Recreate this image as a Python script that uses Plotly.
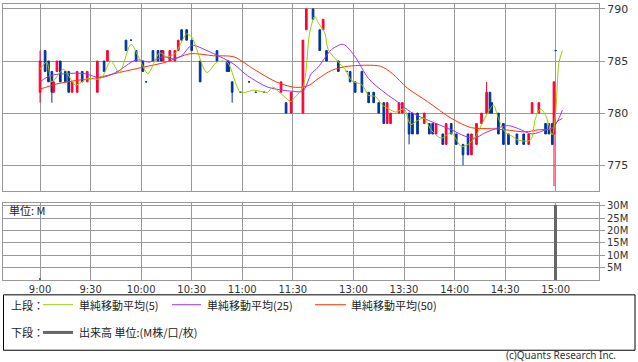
import plotly.graph_objects as go

# ---------------- data ----------------
candle_time = ["9:00", "9:03", "9:05", "9:07", "9:08", "9:10", "9:12", "9:15", "9:17", "9:19",
               "9:22", "9:25", "9:28", "9:34", "9:38", "9:40", "9:46", "9:51", "9:54", "9:57",
               "10:01", "10:03", "10:07", "10:10", "10:12", "10:13", "10:17", "10:20", "10:22", "10:24",
               "10:27", "10:30", "10:35", "10:45", "10:51", "10:52", "10:54", "10:59", "11:04", "11:08",
               "11:13", "11:23", "11:26", "11:29",
               "12:30", "12:32", "12:36", "12:40", "12:42", "12:44", "12:51", "12:56", "12:58", "13:01",
               "13:05", "13:09", "13:12", "13:15", "13:18", "13:20", "13:22", "13:27", "13:29", "13:33",
               "13:35", "13:38", "13:42", "13:45", "13:47", "13:49", "13:53", "13:55", "13:58", "14:01",
               "14:05", "14:08", "14:10", "14:13", "14:16", "14:19", "14:21", "14:22", "14:26", "14:29",
               "14:32", "14:37", "14:41", "14:44", "14:46", "14:50", "14:54", "14:56", "14:58", "14:59",
               "15:00"]
candle_open = [782, 786, 785, 784, 782, 784, 785, 784, 784, 782,
               782, 784, 783, 782, 785, 785, 784, 787, 787, 786,
               785, 783, 786, 786, 786, 785, 785, 785, 786, 788,
               788, 787, 785, 786, 785, 785, 783, 782, 783, 782,
               782, 782, 781, 780,
               780, 788, 790, 788, 788, 786, 785, 784, 784, 783,
               784, 782, 782, 781, 781, 779, 779, 780, 780, 780,
               780, 780, 779, 779, 779, 778, 778, 777, 779, 778,
               777, 778, 776, 777, 779, 780, 782, 781, 780, 779,
               778, 778, 778, 777, 780, 780, 779, 779, 779, 778,
               786]
candle_high = [786, 786, 785, 784, 783, 785, 785, 784, 784, 783,
               784, 784, 784, 785, 785, 786, 784, 787, 787, 786,
               785, 783, 786, 786, 786, 786, 786, 786, 787, 788,
               788, 787, 785, 786, 785, 785, 783, 782, 783, 782,
               782, 783, 781, 782,
               787, 790, 790, 788, 789, 786, 785, 784, 784, 783,
               784, 782, 782, 781, 781, 781, 780, 781, 781, 780,
               780, 780, 780, 779, 779, 779, 778, 779, 779, 778,
               777, 778, 778, 779, 780, 783, 782, 781, 780, 779,
               778, 778, 778, 778, 781, 781, 779, 779, 779, 783,
               786]
candle_low = [781, 784, 783, 781, 782, 784, 783, 783, 782, 782,
              782, 783, 783, 782, 784, 785, 784, 786, 787, 785,
              784, 783, 785, 785, 785, 785, 785, 785, 786, 787,
              787, 786, 783, 785, 784, 784, 781, 782, 783, 782,
              782, 782, 780, 780,
              780, 788, 789, 786, 788, 785, 784, 784, 783, 782,
              782, 781, 781, 780, 779, 779, 779, 780, 780, 777,
              778, 778, 779, 778, 778, 778, 777, 777, 778, 777,
              775, 776, 776, 777, 779, 780, 780, 780, 778, 777,
              777, 777, 777, 777, 780, 780, 778, 778, 777, 773,
              786]
candle_close = [785, 784, 783, 782, 783, 785, 783, 783, 782, 783,
                784, 783, 784, 785, 784, 786, 784, 786, 787, 785,
                784, 783, 785, 785, 785, 786, 786, 786, 787, 787,
                787, 786, 783, 785, 784, 784, 782, 782, 783, 782,
                782, 783, 780, 782,
                787, 790, 789, 786, 789, 785, 784, 784, 783, 782,
                782, 781, 781, 780, 779, 781, 780, 781, 781, 778,
                778, 778, 780, 778, 778, 779, 777, 779, 778, 777,
                776, 776, 778, 779, 780, 782, 780, 780, 778, 777,
                777, 777, 777, 778, 781, 781, 778, 778, 777, 783,
                786]

ma5_time = ["9:00", "9:04", "9:07", "9:14", "9:21", "9:28", "9:36", "9:42", "9:47", "9:54",
            "9:59", "10:04", "10:11", "10:15", "10:20", "10:27", "10:30", "10:39", "10:45", "10:51",
            "10:59", "11:07", "11:15", "11:18", "11:22", "11:29", "11:30", "12:30", "12:34", "12:37",
            "12:39", "12:43", "12:45", "12:51", "12:55", "12:59", "13:05", "13:09", "13:13", "13:17",
            "13:21", "13:25", "13:30", "13:34", "13:38", "13:42", "13:46", "13:52", "13:58", "14:04",
            "14:08", "14:12", "14:16", "14:20", "14:23", "14:26", "14:30", "14:34", "14:38", "14:45",
            "14:48", "14:51", "14:54", "14:58", "15:00", "15:02", "15:04"]
ma5_value = [784.2, 784.9, 783.0, 784.2, 782.7, 783.3, 783.3, 785.0, 783.9, 786.6,
             785.2, 783.8, 785.8, 785.4, 785.7, 787.6, 787.3, 783.9, 784.9, 784.9,
             782.0, 782.2, 782.0, 782.5, 782.0, 781.1, 781.3, 782.5, 787.7, 789.3,
             788.7, 787.7, 786.1, 784.9, 784.2, 783.1, 782.7, 781.7, 781.6, 780.8,
             780.4, 780.1, 780.4, 778.9, 779.3, 779.5, 778.4, 777.6, 778.1, 776.8,
             777.0, 777.6, 778.9, 780.1, 780.8, 779.5, 778.2, 777.8, 777.4, 777.4,
             779.5, 780.4, 779.8, 777.9, 780.1, 784.9, 786.0]

ma25_time = ["9:00", "9:06", "9:16", "9:26", "9:36", "9:45", "9:57", "10:05", "10:13", "10:19",
             "10:24", "10:30", "10:39", "10:47", "10:55", "11:03", "11:15", "11:24", "11:30", "12:30",
             "12:35", "12:39", "12:47", "12:54", "13:01", "13:09", "13:19", "13:26", "13:34", "13:46",
             "13:58", "14:06", "14:12", "14:18", "14:26", "14:32", "14:38", "14:46", "14:54", "14:58",
             "15:01", "15:04"]
ma25_value = [783.0, 783.6, 783.8, 783.8, 783.4, 783.9, 785.1, 784.9, 785.4, 785.2,
              785.5, 786.5, 786.0, 785.4, 784.7, 783.6, 782.5, 782.2, 782.1, 782.1,
              783.8, 784.4, 786.1, 786.6, 785.4, 783.3, 781.9, 781.1, 780.1, 779.2,
              778.4, 777.8, 777.6, 778.1, 778.6, 778.8, 778.5, 778.0, 778.4, 778.6,
              779.2, 780.3]

ma50_time = ["9:00", "9:10", "9:20", "9:34", "9:47", "10:01", "10:15", "10:29", "10:43", "10:55",
             "11:07", "11:20", "11:30", "12:30", "12:34", "12:39", "12:47", "12:57", "13:16", "13:23",
             "13:32", "13:44", "13:58", "14:10", "14:22", "14:30", "14:42", "14:50", "14:58", "15:01",
             "15:04"]
ma50_value = [782.3, 782.8, 783.1, 783.4, 783.9, 784.4, 784.9, 785.7, 785.5, 785.4,
              784.2, 783.0, 782.5, 782.5, 782.7, 783.3, 784.1, 784.5, 784.5, 783.8,
              782.4, 781.1, 779.5, 778.6, 778.5, 778.4, 778.2, 778.4, 778.5, 779.2,
              779.5]

volume_time = ["9:00", "15:00"]
volume_value = [0.8, 30.5]  # millions

x_tick_labels = ["9:00", "9:30", "10:00", "10:30", "11:00", "11:30",
                 "13:00", "13:30", "14:00", "14:30", "15:00"]
price_ticks = [775, 780, 785, 790]
volume_ticks = [5, 10, 15, 20, 25, 30]
volume_tick_labels = ["5M", "10M", "15M", "20M", "25M", "30M"]

legend_labels = ["単純移動平均(5)", "単純移動平均(25)", "単純移動平均(50)"]
volume_label = "出来高 単位:(M株/口/枚)"


# ---------------- helpers ----------------
def session_index(t):
    h, m = map(int, t.split(":"))
    mins = h * 60 + m
    if mins <= 11 * 60 + 30:
        return mins - 9 * 60
    return mins - (12 * 60 + 30) + 156


W, H = 638, 362
ML, MR, MT, MB = 3, 39, 1, 82
PW = W - ML - MR
PH = H - MT - MB


def px(x):
    return (x - ML) / PW


def py(y):
    return (H - MB - y) / PH


UP = "#ff0033"
DOWN = "#003399"
GRID = "#999999"
C5, C25, C50 = "#99cc00", "#9933ff", "#ff3300"
VOLC = "#666666"

fig = go.Figure()

up_idx = [i for i in range(len(candle_time)) if candle_close[i] > candle_open[i]]
dn_idx = [i for i in range(len(candle_time)) if candle_close[i] <= candle_open[i]]

for idxs, col in ((dn_idx, DOWN), (up_idx, UP)):
    fig.add_trace(go.Candlestick(
        x=[session_index(candle_time[i]) for i in idxs],
        open=[candle_open[i] for i in idxs],
        high=[candle_high[i] for i in idxs],
        low=[candle_low[i] for i in idxs],
        close=[candle_close[i] for i in idxs],
        increasing=dict(line=dict(color=col, width=1), fillcolor=col),
        decreasing=dict(line=dict(color=col, width=1), fillcolor=col),
        whiskerwidth=0,
        showlegend=False, xaxis="x", yaxis="y", hoverinfo="skip",
    ))

for t, v, c in ((ma50_time, ma50_value, C50), (ma25_time, ma25_value, C25), (ma5_time, ma5_value, C5)):
    fig.add_trace(go.Scatter(
        x=[session_index(s) for s in t], y=v, mode="lines",
        line=dict(color=c, width=1, shape="spline", smoothing=0.8),
        showlegend=False, xaxis="x", yaxis="y", hoverinfo="skip",
    ))

fig.add_trace(go.Bar(
    x=[session_index(s) for s in volume_time], y=volume_value,
    marker=dict(color=VOLC, line=dict(width=0)), width=1.5,
    showlegend=False, xaxis="x2", yaxis="y2", hoverinfo="skip",
))

xr = [-22, -22 + PW / 1.685]
tickpos = [session_index(s) for s in x_tick_labels]
tickfont = dict(family="DejaVu Sans", size=10, color="#333333")

common_x = dict(range=xr, showgrid=True, gridcolor=GRID, gridwidth=1, zeroline=False,
                showline=True, linecolor=GRID, linewidth=1, mirror=True,
                tickmode="array", tickvals=tickpos, ticks="", fixedrange=True)

fig.update_layout(
    width=W, height=H,
    margin=dict(l=ML, r=MR, t=MT, b=MB),
    paper_bgcolor="white", plot_bgcolor="white",
    boxgap=0, boxgroupgap=0,
    bargap=0,
    hovermode=False,
    xaxis=dict(domain=[0, 1], anchor="y", showticklabels=False,
               rangeslider=dict(visible=False), **common_x),
    xaxis2=dict(domain=[0, 1], anchor="y2", showticklabels=True, ticktext=x_tick_labels,
                tickfont=tickfont, **common_x),
    yaxis=dict(domain=[py(190), 1], range=[772.53, 790.47], side="right",
               tickmode="array", tickvals=price_ticks, ticks="outside", ticklen=5, tickcolor=GRID,
               showgrid=True, gridcolor=GRID, zeroline=False, showline=True, linecolor=GRID,
               mirror=True, tickfont=dict(family="DejaVu Sans", size=11, color="#333333"),
               fixedrange=True),
    yaxis2=dict(domain=[0, py(202)], range=[0, 31.2], side="right",
                tickmode="array", tickvals=volume_ticks, ticktext=volume_tick_labels,
                ticks="outside", ticklen=5, tickcolor=GRID,
                showgrid=True, gridcolor=GRID, zeroline=False, showline=True, linecolor=GRID,
                mirror=True, tickfont=dict(family="DejaVu Sans", size=10, color="#333333"),
                fixedrange=True),
    font=dict(family="Noto Sans CJK JP", size=11, color="#222222"),
)

shapes = [
    dict(type="rect", xref="paper", yref="paper", x0=px(3.5), x1=px(635), y0=py(295), y1=py(351),
         line=dict(color="#000000", width=1), fillcolor="rgba(0,0,0,0)"),
    dict(type="line", xref="paper", yref="paper", x0=px(43), x1=px(73), y0=py(305), y1=py(305),
         line=dict(color=C5, width=1)),
    dict(type="line", xref="paper", yref="paper", x0=px(172), x1=px(201), y0=py(305), y1=py(305),
         line=dict(color=C25, width=1)),
    dict(type="line", xref="paper", yref="paper", x0=px(315), x1=px(346), y0=py(305), y1=py(305),
         line=dict(color=C50, width=1)),
    dict(type="line", xref="paper", yref="paper", x0=px(43), x1=px(73), y0=py(333), y1=py(333),
         line=dict(color=VOLC, width=3)),
]
fig.update_layout(shapes=shapes)

jp = dict(family="Noto Sans CJK JP", size=11, color="#222222")


def ann(x, y, text, anchor="left", font=jp):
    return dict(xref="paper", yref="paper", x=px(x), y=py(y), text=text, showarrow=False,
                xanchor=anchor, yanchor="middle", font=font)


annotations = [
    ann(9, 305, "上段："),
    ann(77, 305, legend_labels[0]),
    ann(205, 305, legend_labels[1]),
    ann(349, 305, legend_labels[2]),
    ann(9, 333, "下段："),
    ann(77, 333, volume_label),
    ann(7, 209, "単位: M"),
    ann(618, 356, "(c)Quants Research Inc.", anchor="right",
        font=dict(family="Noto Sans", size=10, color="#333333")),
]
fig.update_layout(annotations=annotations)

fig.write_html("out.html", config={"displayModeBar": False, "staticPlot": True},
               post_script="document.body.style.margin='0';document.body.style.overflow='hidden';")
